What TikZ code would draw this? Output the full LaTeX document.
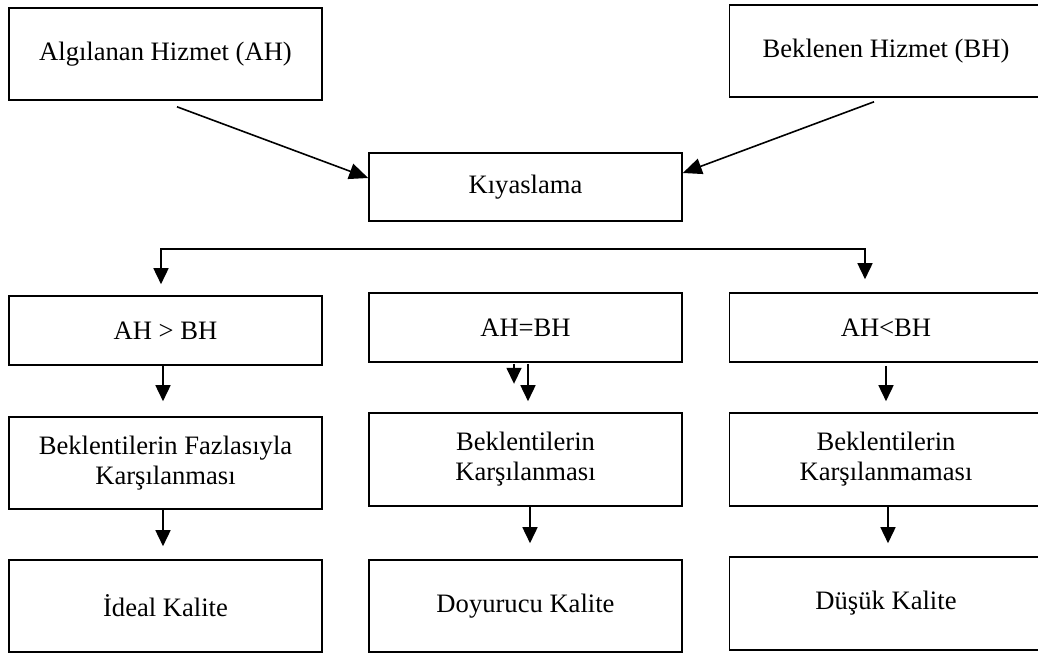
\documentclass[tikz,border=0pt]{standalone}
\usepackage{fontspec}
\setmainfont{Liberation Serif}
\usetikzlibrary{arrows.meta,calc}
\begin{document}
\begin{tikzpicture}[x=0.5pt,y=-0.5pt,
  box/.style={draw, line width=0.8pt, minimum width=156.5pt, inner sep=0pt, align=center,
    font=\fontsize{13.3pt}{15pt}\selectfont},
  arr/.style={line width=0.8pt, -{Triangle[length=8pt,width=7.5pt]}},
  darr/.style={line width=0.8pt, -{Triangle[length=9.5pt,width=8pt]}},
  barr/.style={line width=0.8pt, {Triangle[length=8pt,width=7.5pt]}-{Triangle[length=8pt,width=7.5pt]}}]
\useasboundingbox (0,0) rectangle (1038,653);
\clip (0,0) rectangle (1038,653);
% row 1
\node[box, minimum height=46pt] (ah) at (165.5,54) {Algılanan Hizmet (AH)};
\node[box, minimum height=46pt] (bh) at (886,51) {Beklenen Hizmet (BH)};
\node[box, minimum height=34pt] (kiy) at (525.5,187) {Kıyaslama};
% row 2
\node[box, minimum height=34.5pt] (gt) at (165.5,330.5) {AH > BH};
\node[box, minimum height=34.5pt] (eq) at (525.5,327.5) {AH=BH};
\node[box, minimum height=34.5pt] (lt) at (886,327.5) {AH<BH};
% row 3
\node[box, minimum height=46pt] (fa) at (165.5,463) {Beklentilerin Fazlasıyla\\Karşılanması};
\node[box, minimum height=46.5pt] (ka) at (525.5,459.5) {Beklentilerin\\Karşılanması};
\node[box, minimum height=46.5pt] (km) at (886,459.5) {Beklentilerin\\Karşılanmaması};
% row 4
\node[box, minimum height=46pt] (ik) at (165.5,606) {İdeal Kalite};
\node[box, minimum height=46pt] (dk) at (525.5,606) {Doyurucu Kalite};
\node[box, minimum height=46.5pt] (dsk) at (886,603.5) {Düşük Kalite};
% connectors
\draw[darr] ($(ah.south)+(11.5,6)$) -- ($(kiy.west)+(0,-9)$);
\draw[darr] ($(bh.south)+(-12,4)$) -- ($(kiy.east)+(0,-14)$);
\coordinate (brk) at (513,249);
\draw[barr] ($(gt.north)+(-4.5,-11)$) |- (brk) -| ($(lt.north)+(-21,-13)$);
\draw[arr] ($(gt.south)+(-2.5,0)$) -- ($(fa.north)+(-2.5,-15)$);
\coordinate (eqs) at ($(eq.south)+(-11.5,21)$);
\draw[arr] ($(eq.south)+(-11.5,1)$) -- (eqs);
\draw[arr] ($(eq.south)+(2.5,1)$) -- ($(ka.north)+(2.5,-11)$);
\draw[arr] ($(lt.south)+(0,3)$) -- ($(km.north)+(0,-11)$);
\draw[arr] ($(fa.south)+(-2.5,0)$) -- ($(ik.north)+(-2.5,-13)$);
\draw[arr] ($(ka.south)+(4.5,0)$) -- ($(dk.north)+(4.5,-16)$);
\draw[arr] ($(km.south)+(2,0)$) -- ($(dsk.north)+(2,-13)$);
\end{tikzpicture}
\end{document}
